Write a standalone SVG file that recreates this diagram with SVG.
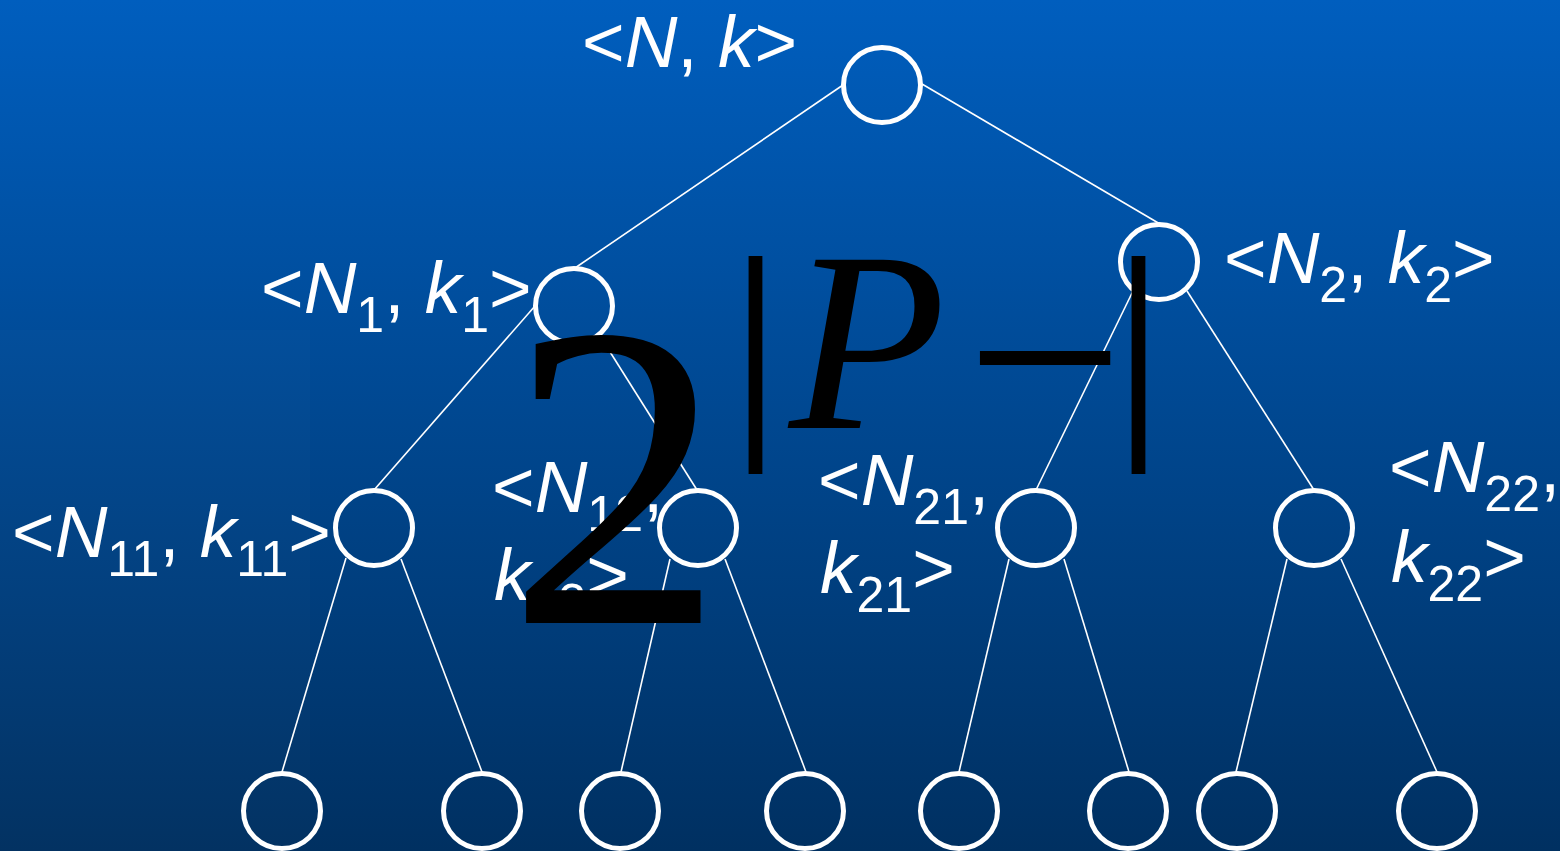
<svg xmlns="http://www.w3.org/2000/svg" width="1560" height="851" viewBox="0 0 1560 851">
<defs>
<linearGradient id="bg" x1="0" y1="0" x2="0" y2="1">
<stop offset="0" stop-color="#005EBE"/>
<stop offset="1" stop-color="#003061"/>
</linearGradient>
<style>
.node{fill:none;stroke:#FFFFFF;stroke-width:5}
.edge{stroke:#FFFFFF;stroke-width:1.6;fill:none}
.lbl{font-family:"Liberation Sans",Arial,sans-serif;font-size:73px;fill:#FFFFFF}
.it{font-style:italic}
.sub{font-size:50px}
.math{font-family:"Liberation Serif","Times New Roman",serif;fill:#000000}
.bar{stroke:#000000;stroke-width:2;text-anchor:middle}
</style>
</defs>
<rect x="0" y="0" width="1560" height="851" fill="url(#bg)"/>
<rect x="0" y="330" width="310" height="521" fill="#FFFFFF" fill-opacity="0.012"/>
<g id="connectors">
<line class="edge" x1="843" y1="85" x2="575" y2="268"/>
<line class="edge" x1="922" y1="84" x2="1160" y2="224"/>
<line class="edge" x1="535" y1="306" x2="374" y2="490"/>
<line class="edge" x1="600" y1="336" x2="697" y2="490"/>
<line class="edge" x1="1133" y1="291" x2="1036" y2="490"/>
<line class="edge" x1="1187" y1="291" x2="1314" y2="490"/>
<line class="edge" x1="346" y1="558" x2="282" y2="772"/>
<line class="edge" x1="401" y1="559" x2="482" y2="772"/>
<line class="edge" x1="670" y1="559" x2="621" y2="772"/>
<line class="edge" x1="725" y1="559" x2="806" y2="772"/>
<line class="edge" x1="1009" y1="559" x2="959" y2="772"/>
<line class="edge" x1="1064" y1="559" x2="1129" y2="772"/>
<line class="edge" x1="1287" y1="559" x2="1236" y2="772"/>
<line class="edge" x1="1341" y1="559" x2="1437" y2="772"/>
</g>
<g id="root">
<ellipse class="node" cx="882" cy="85" rx="38.5" ry="37.5"/>
<text class="lbl" x="582" y="67">&lt;<tspan class="it">N</tspan>, <tspan class="it">k</tspan>&gt;</text>
</g>
<g id="n1">
<ellipse class="node" cx="574" cy="306" rx="38.5" ry="37.5"/>
<text class="lbl" x="261" y="313">&lt;<tspan class="it">N</tspan><tspan class="sub" dy="19">1</tspan><tspan dy="-19">, </tspan><tspan class="it">k</tspan><tspan class="sub" dy="19">1</tspan><tspan dy="-19">&gt;</tspan></text>
</g>
<g id="n2">
<ellipse class="node" cx="1159" cy="262" rx="38.5" ry="37.5"/>
<text class="lbl" x="1224" y="283">&lt;<tspan class="it">N</tspan><tspan class="sub" dy="19">2</tspan><tspan dy="-19">, </tspan><tspan class="it">k</tspan><tspan class="sub" dy="19">2</tspan><tspan dy="-19">&gt;</tspan></text>
</g>
<g id="n11">
<ellipse class="node" cx="374" cy="528" rx="38.5" ry="37.5"/>
<text class="lbl" x="12" y="557">&lt;<tspan class="it">N</tspan><tspan class="sub" dy="19">11</tspan><tspan dy="-19">, </tspan><tspan class="it">k</tspan><tspan class="sub" dy="19">11</tspan><tspan dy="-19">&gt;</tspan></text>
</g>
<g id="n12">
<ellipse class="node" cx="698" cy="528" rx="38.5" ry="37.5"/>
<text class="lbl" x="492" y="512">&lt;<tspan class="it">N</tspan><tspan class="sub" dy="19">12</tspan><tspan dy="-19">,</tspan></text>
<text class="lbl" x="494" y="600"><tspan class="it">k</tspan><tspan class="sub" dy="19">12</tspan><tspan dy="-19">&gt;</tspan></text>
</g>
<g id="n21">
<ellipse class="node" cx="1036" cy="528" rx="38.5" ry="37.5"/>
<text class="lbl" x="818" y="505">&lt;<tspan class="it">N</tspan><tspan class="sub" dy="19">21</tspan><tspan dy="-19">,</tspan></text>
<text class="lbl" x="820" y="593"><tspan class="it">k</tspan><tspan class="sub" dy="19">21</tspan><tspan dy="-19">&gt;</tspan></text>
</g>
<g id="n22">
<ellipse class="node" cx="1314" cy="528" rx="38.5" ry="37.5"/>
<text class="lbl" x="1389" y="492">&lt;<tspan class="it">N</tspan><tspan class="sub" dy="19">22</tspan><tspan dy="-19">,</tspan></text>
<text class="lbl" x="1391" y="582"><tspan class="it">k</tspan><tspan class="sub" dy="19">22</tspan><tspan dy="-19">&gt;</tspan></text>
</g>
<g id="leaf1"><ellipse class="node" cx="282" cy="811" rx="38.5" ry="37.5"/></g>
<g id="leaf2"><ellipse class="node" cx="482" cy="811" rx="38.5" ry="37.5"/></g>
<g id="leaf3"><ellipse class="node" cx="620" cy="811" rx="38.5" ry="37.5"/></g>
<g id="leaf4"><ellipse class="node" cx="805" cy="811" rx="38.5" ry="37.5"/></g>
<g id="leaf5"><ellipse class="node" cx="959" cy="811" rx="38.5" ry="37.5"/></g>
<g id="leaf6"><ellipse class="node" cx="1128" cy="811" rx="38.5" ry="37.5"/></g>
<g id="leaf7"><ellipse class="node" cx="1237" cy="811" rx="38.5" ry="37.5"/></g>
<g id="leaf8"><ellipse class="node" cx="1437" cy="811" rx="38.5" ry="37.5"/></g>
<g id="formula" class="math">
<text x="507" y="623" font-size="435">2</text>
<text class="bar" x="755.5" y="422" font-size="237">|</text>
<text x="789" y="428" font-size="257" font-style="italic">P</text>
<text x="966" y="451" font-size="280">−</text>
<text class="bar" x="1138.5" y="422" font-size="237">|</text>
</g>
</svg>
